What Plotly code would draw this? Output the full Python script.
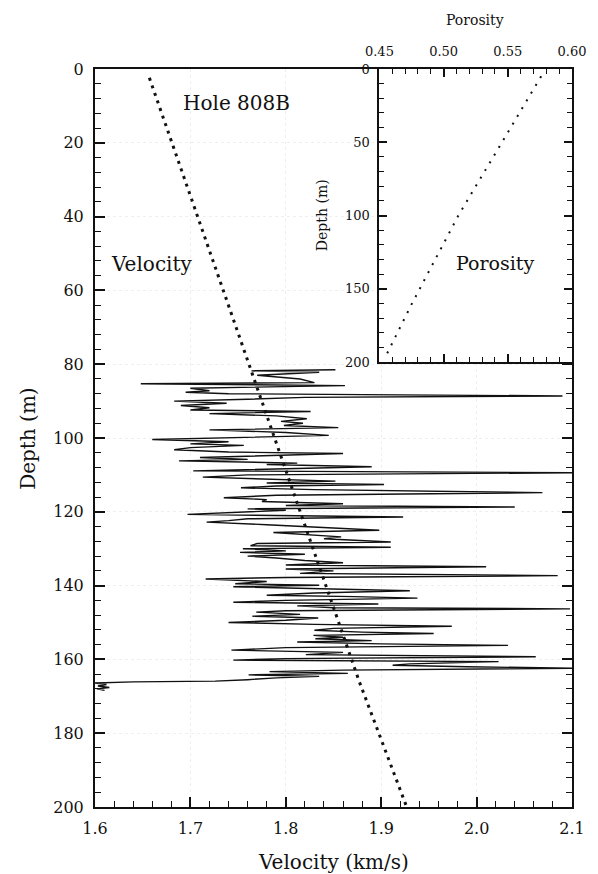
import plotly.graph_objects as go

# ---- Velocity log (Hole 808B), depth in m, velocity in km/s ----
log_depth = [81.5, 81.8, 82.2, 83.0, 84.0, 85.0, 85.3, 85.8, 86.5, 87.2, 87.6, 88.0, 88.6, 89.0, 89.5,
             90.0, 90.6, 91.2, 91.8, 92.4, 92.8, 93.4, 94.0, 94.8, 95.5, 96.0, 96.6, 97.2, 97.8, 98.5,
             99.3, 100.0, 100.4, 101.0, 101.6, 102.0, 102.6, 103.2, 103.8, 104.2, 104.8, 105.3, 105.8,
             106.2, 106.8, 107.2, 107.8, 108.3, 108.9, 109.4, 110.0, 110.6, 111.2, 111.7, 112.2, 112.6,
             113.0, 113.5, 114.0, 114.8, 115.5, 116.2, 116.7, 117.2, 117.8, 118.3, 118.7, 119.2, 119.6,
             120.2, 120.7, 121.4, 121.9, 122.4, 122.8, 123.5, 124.2, 125.0, 125.6, 126.3, 126.8, 127.3,
             128.2, 128.6, 129.2, 129.6, 130.0, 130.6, 131.0, 131.5, 132.0, 132.5, 133.2, 133.8, 134.4,
             134.9, 135.5, 136.0, 136.7, 137.3, 137.8, 138.2, 138.9, 139.5, 139.9, 140.3, 140.9, 141.4,
             142.0, 142.6, 143.0, 143.4, 144.0, 144.5, 145.0, 145.5, 146.0, 146.3, 146.8, 147.2, 147.8,
             148.3, 148.8, 149.4, 150.0, 150.5, 151.0, 151.6, 152.1, 152.6, 153.0, 153.5, 154.0, 154.4,
             154.9, 155.3, 155.8, 156.2, 156.8, 157.5, 158.1, 158.7, 159.3, 159.8, 160.2, 160.6, 161.2,
             161.6, 162.0, 162.4, 162.9, 163.3, 163.8, 164.2, 164.6, 165.0, 165.5, 165.9, 166.1, 166.4,
             166.8, 167.2, 167.6, 168.0, 168.4]
log_velocity = [1.852, 1.764, 1.835, 1.770, 1.815, 1.830, 1.648, 1.862, 1.700, 1.720, 1.695, 1.740, 2.090,
                1.820, 1.760, 1.683, 1.738, 1.690, 1.720, 1.700, 1.826, 1.720, 1.790, 1.822, 1.795, 1.818,
                1.798, 1.855, 1.720, 1.800, 1.845, 1.740, 1.660, 1.740, 1.700, 1.756, 1.700, 1.683, 1.740,
                1.860, 1.760, 1.710, 1.760, 1.688, 1.812, 1.780, 1.890, 1.790, 1.703, 2.110, 1.760, 1.713,
                1.800, 1.852, 1.780, 1.903, 1.790, 1.753, 1.830, 2.069, 1.790, 1.735, 1.780, 1.775, 1.860,
                1.800, 2.040, 1.760, 1.800, 1.740, 1.697, 1.923, 1.760, 1.740, 1.717, 1.780, 1.840, 1.898,
                1.787, 1.830, 1.858, 1.840, 1.910, 1.770, 1.763, 1.910, 1.755, 1.800, 1.752, 1.820, 1.760,
                1.790, 1.820, 1.860, 1.800, 2.010, 1.800, 1.850, 1.815, 2.085, 1.800, 1.716, 1.780, 1.747,
                1.835, 1.745, 1.850, 1.930, 1.830, 1.780, 1.872, 1.938, 1.800, 1.745, 1.897, 1.812, 1.850,
                2.098, 1.800, 1.769, 1.815, 1.765, 1.834, 1.800, 1.740, 1.830, 1.974, 1.850, 1.830, 1.880,
                1.955, 1.829, 1.860, 1.831, 1.890, 1.812, 1.900, 2.033, 1.800, 1.743, 1.860, 1.821, 2.062,
                1.800, 1.745, 2.023, 1.930, 1.912, 1.990, 2.110, 1.860, 1.783, 1.865, 1.761, 1.835, 1.790,
                1.760, 1.726, 1.640, 1.600, 1.612, 1.603, 1.615, 1.602, 1.610]

# ---- Velocity trend (dotted) ----
trend_depth = [2.4, 81.8, 166.0, 199.5]
trend_velocity = [1.657, 1.7636, 1.877, 1.926]

# ---- Porosity trend (inset, dotted) ----
por_depth = [5.0, 100.0, 160.0, 184.0, 196.6]
por_value = [0.576, 0.5115, 0.4754, 0.462, 0.4546]

FONT = "DejaVu Serif"
INK = "#111111"

fig = go.Figure()

fig.add_trace(go.Scatter(x=log_velocity, y=log_depth, mode="lines",
                         line=dict(color=INK, width=1.4), xaxis="x", yaxis="y",
                         showlegend=False, hoverinfo="skip"))
fig.add_trace(go.Scatter(x=trend_velocity, y=trend_depth, mode="lines",
                         line=dict(color=INK, width=3, dash="3px,5px"), xaxis="x", yaxis="y",
                         showlegend=False, hoverinfo="skip"))
fig.add_trace(go.Scatter(x=por_value, y=por_depth, mode="lines",
                         line=dict(color=INK, width=2, dash="2px,7px"), xaxis="x2", yaxis="y2",
                         showlegend=False, hoverinfo="skip"))

W, H = 598, 874
ml, mr, mt, mb = 95, 20, 69, 67
pw, ph = W - ml - mr, H - mt - mb
inset_x0 = (383 - ml) / pw
inset_y0 = 1 - (362 - mt) / ph


def px_x(px):
    return (px - ml) / pw


def px_y(py):
    return (H - mb - py) / ph


axis_common = dict(showline=True, linecolor=INK, linewidth=2, ticks="inside",
                   tickcolor=INK, tickwidth=1.6, zeroline=False)
GRID = "#efefef"

fig.update_layout(
    width=W, height=H,
    margin=dict(l=ml, r=mr, t=mt, b=mb),
    paper_bgcolor="white", plot_bgcolor="white",
    font=dict(family=FONT, color=INK),
    xaxis=dict(domain=[0, 1], range=[1.6, 2.1], dtick=0.1, tickformat=".1f",
               ticklen=10, mirror=True, showgrid=True, gridcolor=GRID, griddash="dot",
               gridwidth=1, tickfont=dict(size=16, family=FONT, color=INK),
               ticklabelstandoff=6,
               minor=dict(dtick=0.02, ticklen=6, ticks="inside", tickcolor=INK, tickwidth=1.4,
                          showgrid=False),
               anchor="y", **axis_common),
    yaxis=dict(domain=[0, 1], range=[200, 0], dtick=20, ticklen=10, mirror="ticks",
               showgrid=True, gridcolor=GRID, griddash="dot", gridwidth=1,
               tickfont=dict(size=16, family=FONT, color=INK), ticklabelstandoff=6,
               minor=dict(dtick=4, ticklen=6, ticks="inside", tickcolor=INK, tickwidth=1.4,
                          showgrid=False),
               anchor="x", **axis_common),
    xaxis2=dict(domain=[inset_x0, 1], range=[0.45, 0.60], dtick=0.05, tickformat=".2f",
                side="top", anchor="y2", ticklen=8, mirror="ticks", showgrid=False,
                tickfont=dict(size=13, family=FONT, color=INK), ticklabelstandoff=6,
                minor=dict(dtick=0.01, ticklen=5, ticks="inside", tickcolor=INK, tickwidth=1.4),
                **axis_common),
    yaxis2=dict(domain=[inset_y0, 1], range=[200, 0], dtick=50, anchor="x2", ticklen=8,
                mirror="ticks", showgrid=False,
                tickfont=dict(size=13, family=FONT, color=INK), ticklabelstandoff=5,
                minor=dict(dtick=10, ticklen=5, ticks="inside", tickcolor=INK, tickwidth=1.4),
                **axis_common),
)

annotations = [
    dict(text="Hole 808B", x=1.748, y=9.2, xref="x", yref="y", font=dict(size=20)),
    dict(text="Velocity", x=1.6595, y=52.8, xref="x", yref="y", font=dict(size=20)),
    dict(text="Porosity", x=0.540, y=132.4, xref="x2", yref="y2", font=dict(size=19)),
    dict(text="Velocity (km/s)", x=px_x(336), y=px_y(862), xref="paper", yref="paper",
         font=dict(size=20)),
    dict(text="Depth (m)", x=px_x(27), y=px_y(438), xref="paper", yref="paper",
         textangle=-90, font=dict(size=20)),
    dict(text="Porosity", x=px_x(480), y=px_y(20), xref="paper", yref="paper",
         font=dict(size=14)),
    dict(text="Depth (m)", x=px_x(325), y=px_y(215), xref="paper", yref="paper",
         textangle=-90, font=dict(size=14)),
]
for a in annotations:
    a.update(showarrow=False, xanchor="center", yanchor="middle")
    a["font"].update(family=FONT, color=INK)
fig.update_layout(annotations=annotations)

fig.write_html("out.html", config={"displayModeBar": False},
               post_script="document.body.style.margin='0';document.body.style.overflow='hidden';")
